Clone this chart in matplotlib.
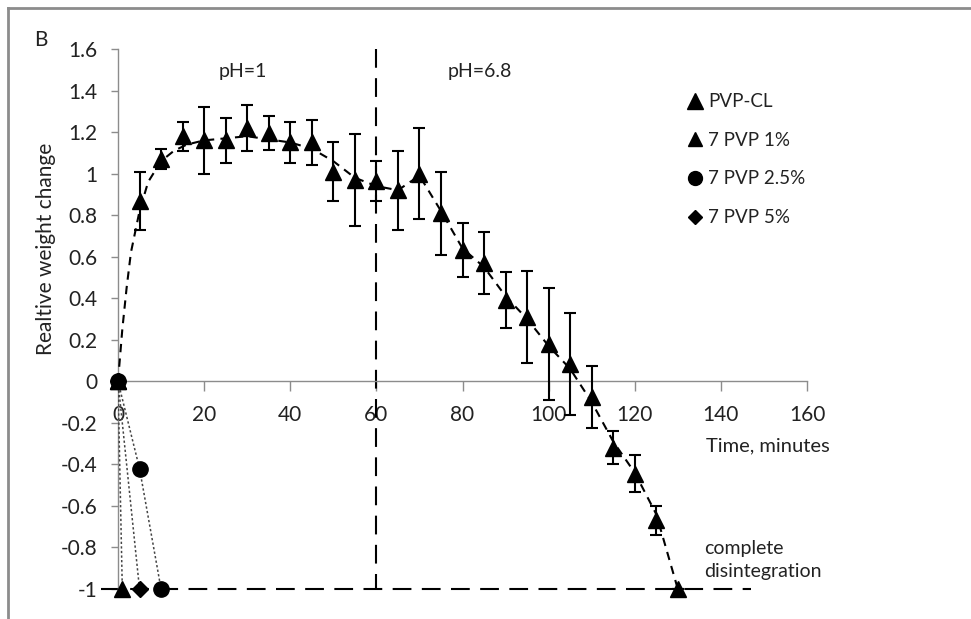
import matplotlib
matplotlib.use("Agg")
import matplotlib.pyplot as plt
from matplotlib.lines import Line2D

plt.rcParams['font.family'] = ['Lato', 'DejaVu Sans']

# PVP-CL data
t_cl = [0, 5, 10, 15, 20, 25, 30, 35, 40, 45, 50, 55, 60, 65, 70, 75, 80, 85,
        90, 95, 100, 105, 110, 115, 120, 125, 130]
y_cl = [0, 0.87, 1.07, 1.18, 1.16, 1.16, 1.22, 1.195, 1.15, 1.15, 1.01, 0.97,
        0.965, 0.92, 1.0, 0.81, 0.63, 0.57, 0.39, 0.31, 0.18, 0.085, -0.075,
        -0.32, -0.445, -0.67, -1.0]
e_cl = [0, 0.14, 0.05, 0.07, 0.16, 0.11, 0.11, 0.08, 0.1, 0.11, 0.14, 0.22,
        0.095, 0.19, 0.22, 0.2, 0.13, 0.15, 0.135, 0.22, 0.27, 0.245, 0.15,
        0.08, 0.09, 0.07, 0]

# trend line
t_tr = [0, 1, 2, 3, 5, 7, 10, 13, 16, 20, 30, 40, 45, 50, 55, 60, 65, 70, 75,
        80, 85, 90, 95, 100, 105, 110, 115, 120, 125, 130]
y_tr = [0, 0.25, 0.45, 0.62, 0.82, 0.96, 1.06, 1.11, 1.14, 1.16, 1.18, 1.15,
        1.12, 1.06, 0.98, 0.94, 0.92, 0.99, 0.82, 0.64, 0.55, 0.41, 0.30, 0.17,
        0.06, -0.10, -0.29, -0.44, -0.64, -1.0]

# other formulations
t_1 = [0, 1]
y_1 = [0, -1]
t_25 = [0, 5, 10]
y_25 = [0, -0.42, -1]
t_5 = [0, 5]
y_5 = [0, -1]

labels = ["PVP-CL", "7 PVP 1%", "7 PVP 2.5%", "7 PVP 5%"]
xticks = [0, 20, 40, 60, 80, 100, 120, 140, 160]
yticks = [-1, -0.8, -0.6, -0.4, -0.2, 0, 0.2, 0.4, 0.6, 0.8, 1, 1.2, 1.4, 1.6]
ytick_labels = ["-1", "-0.8", "-0.6", "-0.4", "-0.2", "0", "0.2", "0.4", "0.6",
                "0.8", "1", "1.2", "1.4", "1.6"]

fig = plt.figure(figsize=(9.71, 6.19), dpi=100)
ax = fig.add_axes([118/971, 1-589/619, (807-118)/971, (589-49)/619])
ax.set_xlim(0, 160)
ax.set_ylim(-1, 1.6)

grey = '#8c8c8c'
txt = '#222222'
for s in ['top', 'right']:
    ax.spines[s].set_visible(False)
ax.spines['bottom'].set_position(('data', 0))
ax.spines['left'].set_color(grey)
ax.spines['bottom'].set_color(grey)
ax.spines['left'].set_linewidth(1)
ax.spines['bottom'].set_linewidth(1)
ax.set_xticks(xticks)
ax.set_yticks(yticks)
ax.set_yticklabels(ytick_labels)
ax.tick_params(axis='both', colors=grey, labelcolor=txt, labelsize=15,
               direction='out', length=5, width=1)
ax.tick_params(axis='y', pad=10)
ax.tick_params(axis='x', length=7, pad=10)

# reference lines
ax.plot([60, 60], [1.6, -1], color='black', lw=1.5, ls=(0, (9, 5)), zorder=2)
ax.plot([-4, 147], [-1, -1], color='black', lw=1.5, ls=(0, (9, 5)),
        clip_on=False, zorder=2)

# dotted series lines
dot = dict(color='#444444', lw=1.1, ls=(0, (1.5, 1.5)), zorder=3)
ax.plot(t_1, y_1, **dot)
ax.plot(t_25, y_25, **dot)
ax.plot(t_5, y_5, **dot)

# trend line
ax.plot(t_tr, y_tr, color='black', lw=1.5, ls=(0, (4, 3)), zorder=3)

# PVP-CL with error bars
ax.errorbar(t_cl, y_cl, yerr=e_cl, fmt='none', ecolor='black', elinewidth=1.5,
            capsize=4, capthick=1.5, zorder=4)
ax.plot(t_cl, y_cl, ls='none', marker='^', ms=12, color='black', zorder=5,
        clip_on=False)
ax.plot(t_1, y_1, ls='none', marker='^', ms=12, color='black', zorder=5,
        clip_on=False)
ax.plot(t_5, y_5, ls='none', marker='D', ms=8, color='black', zorder=5,
        clip_on=False)
ax.plot(t_25, y_25, ls='none', marker='o', ms=11, color='black', zorder=6,
        clip_on=False)

# annotations
ax.text(29, 1.49, "pH=1", fontsize=14, color=txt, ha='center', va='center')
ax.text(84, 1.49, "pH=6.8", fontsize=14, color=txt, ha='center', va='center')
ax.text(151, -0.31, "Time, minutes", fontsize=14.5, color=txt, ha='center',
        va='center')
ax.text(136, -0.86, "complete\ndisintegration", fontsize=14, color=txt,
        ha='left', va='center', linespacing=1.4)
ax.set_ylabel("Realtive weight change", fontsize=15, color=txt)
ax.yaxis.set_label_coords(-0.09, 0.63)

fig.text(41/971, 1-40/619, "B", fontsize=15, color=txt, ha='center',
         va='center')

# legend
handles = [
    Line2D([], [], ls='none', marker='^', ms=11, color='black'),
    Line2D([], [], ls='none', marker='^', ms=10, color='black'),
    Line2D([], [], ls='none', marker='o', ms=10, color='black'),
    Line2D([], [], ls='none', marker='D', ms=7, color='black'),
]
leg = fig.legend(handles, labels, loc='upper left',
                 bbox_to_anchor=(678/971, 1-84/619), frameon=False,
                 fontsize=13.5, handlelength=0.8, handletextpad=0.3,
                 labelspacing=1.15, borderpad=0)
for t in leg.get_texts():
    t.set_color(txt)

# outer frame (top and left)
fig.add_artist(Line2D([8/971, 1], [1-8/619, 1-8/619], color=grey, lw=2,
                      transform=fig.transFigure))
fig.add_artist(Line2D([8/971, 8/971], [0, 1-8/619], color=grey, lw=2,
                      transform=fig.transFigure))

fig.savefig("out.png", dpi=100)
